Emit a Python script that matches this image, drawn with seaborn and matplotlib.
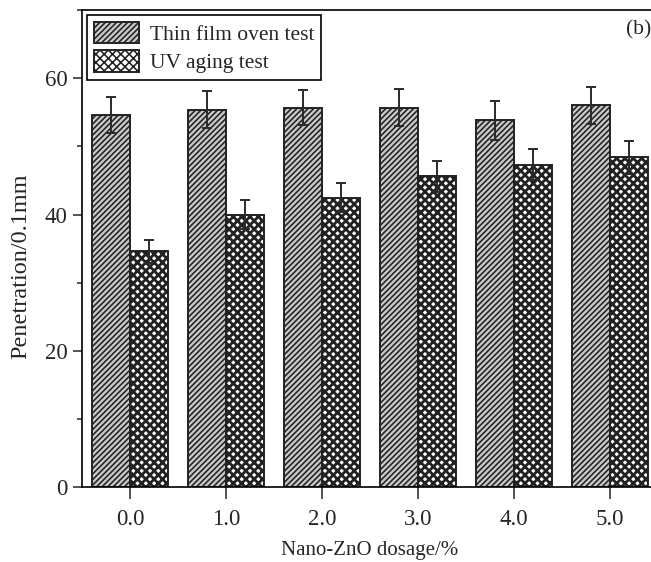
import matplotlib
matplotlib.use("Agg")
import matplotlib.pyplot as plt
import seaborn as sns
import pandas as pd
import numpy as np
from matplotlib.patches import Patch
from matplotlib.ticker import MultipleLocator

dosages = ["0.0", "1.0", "2.0", "3.0", "4.0", "5.0"]
series_names = ["Thin film oven test", "UV aging test"]
thin_film = [54.6, 55.4, 55.7, 55.7, 53.8, 56.0]
thin_film_err = [2.7, 2.7, 2.6, 2.7, 2.8, 2.7]
uv_aging = [34.6, 40.0, 42.5, 45.6, 47.3, 48.4]
uv_aging_err = [1.7, 2.1, 2.1, 2.3, 2.3, 2.4]
hatches = ["//////", "xxxx"]
hatch_lw = [1.15, 2.0]
faces = ["#c8c8c8", "white"]

df = pd.DataFrame({
    "dosage": dosages * 2,
    "test": [series_names[0]] * 6 + [series_names[1]] * 6,
    "value": thin_film + uv_aging,
})

sns.set_style("ticks")
plt.rcParams["font.family"] = ["Liberation Serif", "DejaVu Serif"]
plt.rcParams["hatch.linewidth"] = 1.15
plt.rcParams["hatch.color"] = "#222222"

fig = plt.figure(figsize=(6.51, 5.62), dpi=100)
ax = fig.add_axes([82 / 651, (562 - 487.3) / 562, (658 - 82) / 651, 477.3 / 562])

sns.barplot(data=df, x="dosage", y="value", hue="test", order=dosages,
            hue_order=series_names, palette=faces,
            edgecolor="#222222", linewidth=1.4, errorbar=None, width=0.8,
            saturation=1, ax=ax, legend=False)


def style_patch(p, i):
    p.set_hatch(hatches[i])
    if hasattr(p, "set_hatch_linewidth"):
        p.set_hatch_linewidth(hatch_lw[i])


errs = [thin_film_err, uv_aging_err]
vals = [thin_film, uv_aging]
bar_containers = list(ax.containers)
for ci, cont in enumerate(bar_containers):
    xs = []
    for p in cont.patches:
        style_patch(p, ci)
        xs.append(p.get_x() + p.get_width() / 2)
    ax.errorbar(xs, vals[ci], yerr=errs[ci], fmt="none", ecolor="#2a2a2a",
                elinewidth=1.4, capsize=3.8, capthick=1.4, zorder=5)

ax.set_xlim(-0.5, 5.5)
ax.set_ylim(0, 70)
ax.set_yticks([0, 20, 40, 60])
ax.yaxis.set_minor_locator(MultipleLocator(10))
ax.tick_params(axis="y", which="major", direction="out", length=6.5, width=1.1,
               labelsize=16.5, pad=4)
ax.tick_params(axis="y", which="minor", direction="out", length=3.4, width=1.1)
ax.tick_params(axis="x", which="major", direction="out", length=8.5, width=1.1,
               labelsize=16.5, pad=7)
for s in ["left", "bottom", "top"]:
    ax.spines[s].set_visible(True)
    ax.spines[s].set_linewidth(1.2)
    ax.spines[s].set_color("black")
ax.spines["right"].set_visible(False)

ax.set_xlabel("Nano-ZnO dosage/%", fontsize=15, labelpad=8)
ax.set_ylabel("Penetration/0.1mm", fontsize=17.5)
ax.yaxis.set_label_coords(-0.088, 0.464)

ax.text(0.967, 0.958, "(b)", transform=ax.transAxes, ha="center", va="center",
        fontsize=15.5)

handles = []
for i in range(2):
    h = Patch(facecolor=faces[i], edgecolor="#222222", linewidth=1.4)
    style_patch(h, i)
    handles.append(h)
leg = ax.legend(handles, series_names, loc="upper left", fontsize=15.5,
                frameon=True, fancybox=False, edgecolor="black",
                handlelength=2.1, handleheight=1.15, labelspacing=0.25,
                handletextpad=0.5, borderpad=0.3, borderaxespad=0.25)
leg.get_frame().set_linewidth(1.2)
leg.get_frame().set_alpha(1)

fig.savefig("out.png", dpi=100)
